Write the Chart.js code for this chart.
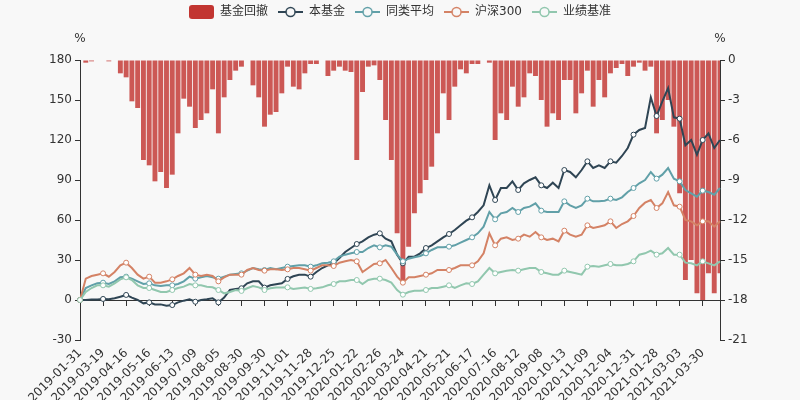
<!DOCTYPE html>
<html>
<head>
<meta charset="utf-8">
<title>基金回撤</title>
<script src="https://cdn.jsdelivr.net/npm/chart.js@4/dist/chart.umd.min.js"></script>
<style>
  html, body { margin: 0; padding: 0; background: #f8f8f8; }
  #chart { display: block; background: #f8f8f8; }
</style>
</head>
<body>
<canvas id="chart" width="800" height="400"></canvas>
<script>
// Tick dates shown on the x axis, one every 4 samples
var tickDates = [
  "2019-01-31", "2019-03-19", "2019-04-16", "2019-05-16", "2019-06-13", "2019-07-09",
  "2019-08-05", "2019-08-30", "2019-09-30", "2019-11-01", "2019-11-28", "2019-12-25",
  "2020-01-22", "2020-02-26", "2020-03-24", "2020-04-21", "2020-05-21", "2020-06-17",
  "2020-07-16", "2020-08-12", "2020-09-08", "2020-10-13", "2020-11-09", "2020-12-04",
  "2020-12-31", "2021-01-28", "2021-03-03", "2021-03-30"
];

// 本基金 cumulative return, %
var fund = [
  0, 0, 0.3, 0.3, 0.8, 0.5, 1.3, 2.5, 3.8, 1.8, 0, -2.5, -1.8, -3.3, -3.3, -4.3,
  -3.8, -1.8, -0.5, 0.5, -1.3, 0, 0.5, 1.3, -1.8, 1.8, 7.5, 8.3, 8.8, 12.5, 14, 14,
  9.3, 11, 11.8, 12.5, 15.8, 17.8, 19, 19, 17.5, 21, 24, 26, 27.5, 31.5, 36, 39,
  42, 44, 47, 49, 50, 46, 44, 34, 27.5, 32.5, 32.5, 35, 39, 41, 44, 47,
  49.5, 52.5, 56, 59.5, 62, 66, 71, 86, 75, 84, 84, 89, 82.5, 87.5, 90, 92,
  86, 84, 88, 84, 97.5, 96, 92, 97.5, 104, 99, 101, 99, 104, 103, 108, 114,
  124, 127.5, 129, 152, 138, 149, 159, 137, 136, 116, 120, 109, 120, 125, 114, 120
];

// 同类平均
var peers = [
  0, 9, 11, 12.5, 13, 12, 14, 17, 17.5, 16, 14, 12, 12.5, 11, 10.5, 11,
  11, 12, 14, 17.5, 16, 17, 18, 17, 16, 17.5, 19, 19.5, 20, 22, 24, 23,
  22.5, 24, 23, 24, 25, 25.5, 26, 26, 25, 26, 27.5, 28, 29, 32.5, 34, 35,
  36, 36, 39, 41, 39.5, 41, 40, 34, 29, 31, 32, 33, 35, 37.5, 39.5, 39.5,
  40, 41, 43, 45, 47, 50, 55, 66, 60.5, 65, 66, 69, 66, 69, 70, 72.5,
  67, 66, 66, 66, 74, 71, 69, 71, 76, 74, 74, 74.5, 76, 75, 77, 81,
  84, 87.5, 90, 96, 91, 94, 99, 91, 89, 82.5, 80, 77.5, 82, 81, 79, 84
];

// 沪深300
var hs300 = [
  0, 16, 18, 19, 20, 17.5, 21, 26, 28, 24, 19, 16, 17.5, 13, 13, 14,
  15.5, 18, 20, 24, 19, 18, 19, 18, 14, 17, 19, 19, 19, 22.5, 24, 22.5,
  22, 23, 23, 22.5, 23, 24, 24, 23, 22, 24, 26, 26, 25.5, 28, 29, 30,
  29, 21, 24, 27, 27.5, 30, 24, 17.5, 13, 17, 17, 18, 19, 20, 22.5, 22.5,
  22.5, 24, 26, 26, 26, 29, 35, 50, 41, 46, 47, 45, 46, 49, 47.5, 51,
  47, 45, 46, 44, 52, 49, 47.5, 49, 56, 54, 55, 56, 59, 54, 57, 59,
  63, 69, 73, 75, 69, 72.5, 81, 71, 70, 60, 59, 56, 59, 59, 55, 59
];

// 业绩基准
var bench = [
  0, 6, 9, 11, 11, 10, 12.5, 15.5, 17, 15, 11, 9, 9, 7.5, 6, 6,
  7.5, 9, 10, 12, 11, 11, 10, 9.5, 7.5, 5, 6, 7.5, 6.8, 8.8, 10.5, 9.5,
  7.5, 8.8, 9.3, 9.3, 9.5, 8.3, 8.8, 9.3, 8.3, 8.8, 9.5, 11, 12, 14, 14, 15,
  15, 12, 15, 16, 16, 15, 13, 7.5, 4, 6, 7, 7, 7.5, 9, 9, 10,
  11, 9, 11, 12.5, 12, 14, 19, 24, 20, 21, 22, 22.5, 22, 23, 24, 24,
  21, 20, 19, 19, 22, 21, 20, 19, 25, 25.5, 25, 26, 27, 26, 26, 27,
  29, 34, 35, 37, 34, 35, 39, 34, 34, 28, 27.5, 26, 29, 27.5, 26, 29
];

// 基金回撤, % (right axis)
var drawdown = [
  0, -0.2, -0.1, 0, 0, -0.1, 0, -1.0, -1.3, -3.1, -3.6, -7.5, -7.9, -9.1, -8.4, -9.6,
  -8.6, -5.5, -2.9, -3.5, -5.1, -4.5, -4.0, -2.2, -5.5, -2.8, -1.5, -0.8, -0.5, 0, -1.9, -2.8,
  -5.0, -4.1, -3.9, -2.5, -0.5, -2.0, -2.2, -1.0, -0.3, -0.3, 0, -1.2, -0.8, -0.5, -0.8, -0.9,
  -7.5, -2.4, -0.5, -0.4, -1.5, -4.5, -7.5, -13, -16.5, -14, -11.5, -10, -9, -8, -5.5, -2.5,
  -4.5, -2, -0.7, -1, -0.3, -0.3, 0, -0.2, -6.0, -4, -4.5, -2.0, -3.5, -2.8, -1.0, -1.2,
  -3, -5, -4, -4.5, -1.5, -1.5, -4, -2.5, -0.8, -3.5, -1.5, -2.8, -1.0, -0.6, -0.3, -1.2,
  -0.5, -0.2, -0.8, -0.5, -5.5, -4.5, -3, -5, -10, -16.5, -15, -17.5, -18, -16, -17.5, -16
];

var leftTicks = { min: -30, max: 180, step: 30 };
var rightTicks = { min: -21, max: 0, step: 3 };

var FONT = "'DejaVu Sans', 'Noto Sans CJK SC', sans-serif";
var TICK_EVERY = 4;

var labels = fund.map(function (_, i) {
  return i % TICK_EVERY === 0 ? tickDates[i / TICK_EVERY] || "" : "";
});

function lineIcon(color) {
  var c = document.createElement("canvas");
  c.width = 25; c.height = 14;
  var g = c.getContext("2d");
  g.strokeStyle = color;
  g.lineWidth = 2;
  g.beginPath(); g.moveTo(0, 7); g.lineTo(25, 7); g.stroke();
  g.beginPath(); g.arc(12.5, 7, 4.5, 0, Math.PI * 2);
  g.fillStyle = "#f8f8f8"; g.fill();
  g.lineWidth = 1.5; g.stroke();
  return c;
}

function barIcon(color) {
  var c = document.createElement("canvas");
  c.width = 25; c.height = 14;
  var g = c.getContext("2d");
  g.fillStyle = color;
  g.beginPath();
  g.roundRect(0, 0, 25, 14, 3);
  g.fill();
  return c;
}

function lineSet(label, data, color, order) {
  return {
    type: "line",
    label: label,
    data: data,
    yAxisID: "y",
    borderColor: color,
    backgroundColor: color,
    borderWidth: 2,
    tension: 0,
    order: order,
    pointRadius: function (c) { return c.dataIndex % TICK_EVERY === 0 ? 2.5 : 0; },
    pointBackgroundColor: "#ffffff",
    pointBorderColor: color,
    pointBorderWidth: 1,
    pointHoverRadius: 0,
  };
}

var colors = ["#c23531", "#2f4554", "#61a0a8", "#d48265", "#91c7ae"];
var icons = [barIcon(colors[0]), lineIcon(colors[1]), lineIcon(colors[2]), lineIcon(colors[3]), lineIcon(colors[4])];

var axisNames = {
  id: "axisNames",
  afterDraw: function (chart) {
    var ctx = chart.ctx, a = chart.chartArea;
    ctx.save();
    ctx.font = "12px " + FONT;
    ctx.fillStyle = "#333";
    ctx.textAlign = "center";
    ctx.textBaseline = "middle";
    ctx.fillText("%", a.left, a.top - 21);
    ctx.fillText("%", a.right, a.top - 21);
    ctx.restore();
  },
};

Chart.defaults.font.family = FONT;
Chart.defaults.font.size = 12;
Chart.defaults.color = "#333";

new Chart(document.getElementById("chart"), {
  type: "bar",
  data: {
    labels: labels,
    datasets: [
      {
        type: "bar",
        label: "基金回撤",
        data: drawdown,
        yAxisID: "y1",
        backgroundColor: "rgba(194,53,49,0.82)",
        borderWidth: 0,
        barPercentage: 0.85,
        categoryPercentage: 1,
        order: 6,
      },
      lineSet("本基金", fund, colors[1], 5),
      lineSet("同类平均", peers, colors[2], 4),
      lineSet("沪深300", hs300, colors[3], 3),
      lineSet("业绩基准", bench, colors[4], 2),
    ],
  },
  options: {
    responsive: false,
    animation: false,
    events: [],
    layout: { padding: { top: -4, left: 0, right: 0, bottom: 0 } },
    plugins: {
      tooltip: { enabled: false },
      title: { display: true, text: "", weight: 500, padding: 0, font: { size: 32, lineHeight: 1 } },
      legend: {
        position: "top",
        labels: {
          usePointStyle: true,
          pointStyleWidth: 25,
          boxHeight: 14,
          padding: 10,
          color: "#333",
          font: { size: 12, family: FONT },
          generateLabels: function (chart) {
            return chart.data.datasets.map(function (ds, i) {
              return {
                text: ds.label,
                datasetIndex: i,
                pointStyle: icons[i],
                fillStyle: colors[i],
                strokeStyle: colors[i],
                lineWidth: 0,
                hidden: false,
                fontColor: "#333",
              };
            });
          },
        },
      },
    },
    scales: {
      x: {
        type: "category",
        position: "bottom",
        offset: false,
        border: { display: false },
        grid: { offset: false, drawOnChartArea: false, drawTicks: true, tickLength: 5, color: "rgba(0,0,0,0)" },
        ticks: { autoSkip: false, minRotation: 45, maxRotation: 45, color: "#333", font: { size: 12 }, padding: 1 },
        afterFit: function (s) { s.height = 60; },
      },
      x2: {
        type: "category",
        position: { y: 0 },
        offset: false,
        border: { display: true, color: "#333", width: 1 },
        grid: {
          offset: false,
          drawOnChartArea: false,
          drawTicks: true,
          tickLength: 5,
          color: function (c) { return c.index % TICK_EVERY === 0 ? "#333" : "rgba(0,0,0,0)"; },
        },
        ticks: { display: false, autoSkip: false },
      },
      y: {
        position: "left",
        min: leftTicks.min,
        max: leftTicks.max,
        border: { display: true, color: "#333" },
        grid: { drawOnChartArea: false, drawTicks: true, tickLength: 5, color: "#333" },
        ticks: { stepSize: leftTicks.step, color: "#333", padding: 3 },
        afterFit: function (s) { s.width = 80; },
      },
      y1: {
        position: "right",
        min: rightTicks.min,
        max: rightTicks.max,
        border: { display: true, color: "#333" },
        grid: { drawOnChartArea: false, drawTicks: true, tickLength: 5, color: "#333" },
        ticks: { stepSize: rightTicks.step, color: "#333", padding: 3 },
        afterFit: function (s) { s.width = 80; },
      },
    },
  },
  plugins: [axisNames],
});
</script>
</body>
</html>
